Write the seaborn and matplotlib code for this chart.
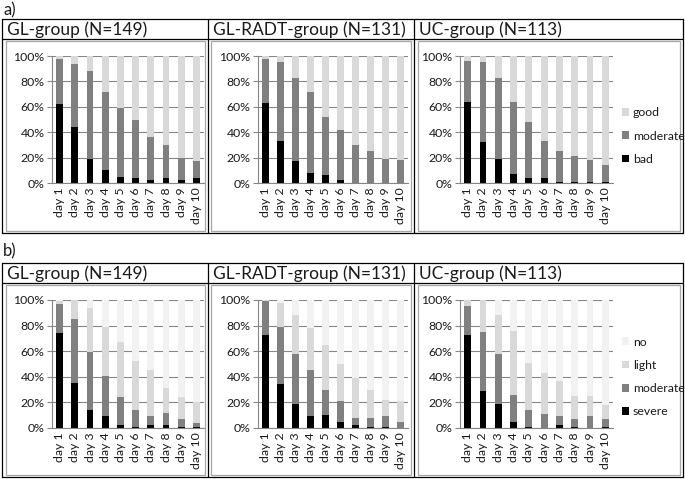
import numpy as np
import matplotlib
matplotlib.use('Agg')
import matplotlib.pyplot as plt
from matplotlib.patches import Rectangle, Patch
from matplotlib.lines import Line2D
import seaborn as sns

#DATA
#******************************************************************************
days = ['day 1', 'day 2', 'day 3', 'day 4', 'day 5',
        'day 6', 'day 7', 'day 8', 'day 9', 'day 10']

groups = ['GL-group (N=149)', 'GL-RADT-group (N=131)', 'UC-group (N=113)']

#a) bad / moderate / good (% per day)
a_gl_bad = [62, 44, 19, 10, 5, 4, 2, 4, 2, 4]
a_gl_moderate = [36, 50, 69, 62, 54, 46, 34, 26, 18, 13]
a_gl_good = [2, 6, 12, 28, 41, 50, 64, 70, 80, 83]

a_radt_bad = [63, 33, 17, 8, 6, 2, 0, 0, 0, 0]
a_radt_moderate = [35, 62, 66, 64, 46, 40, 30, 25, 19, 18]
a_radt_good = [2, 5, 17, 28, 48, 58, 70, 75, 81, 82]

a_uc_bad = [64, 32, 19, 7, 4, 4, 0.5, 1, 1, 1]
a_uc_moderate = [32, 63, 64, 57, 44, 29, 24.5, 20, 17, 13]
a_uc_good = [4, 5, 17, 36, 52, 67, 75, 79, 82, 86]

#b) severe / moderate / light / no (% per day)
b_gl_severe = [74, 35, 14, 9, 2, 1, 2, 2, 1, 1]
b_gl_moderate = [23, 50, 45, 32, 22, 13, 7, 10, 6, 3]
b_gl_light = [2, 15, 35, 38, 43, 38, 36, 19, 17, 16]
b_gl_no = [1, 0, 6, 21, 33, 48, 55, 69, 76, 80]

b_radt_severe = [73, 34, 19, 9, 10, 5, 2, 1, 0.5, 0]
b_radt_moderate = [26, 45, 39, 36, 20, 16, 6, 7, 8.5, 5]
b_radt_light = [1, 19, 30, 33, 35, 29, 31, 22, 13, 16]
b_radt_no = [0, 2, 12, 22, 35, 50, 61, 70, 78, 79]

b_uc_severe = [73, 29, 19, 5, 1, 0, 2, 1, 0, 1]
b_uc_moderate = [22, 46, 39, 21, 13, 11, 7, 6, 9, 6]
b_uc_light = [5, 25, 30, 50, 37, 32, 28, 18, 16, 11]
b_uc_no = [0, 0, 12, 24, 49, 57, 63, 75, 75, 82]

a_labels = ['bad', 'moderate', 'good']
b_labels = ['severe', 'moderate', 'light', 'no']
a_colors = ['#000000', '#808080', '#d9d9d9']
b_colors = ['#000000', '#808080', '#d9d9d9', '#f2f2f2']

#STYLE
#******************************************************************************
sns.set_style('white')
plt.rcParams['font.family'] = ['Lato', 'DejaVu Sans']
plt.rcParams['text.color'] = '#1a1a1a'

W, H = 685, 479
fig = plt.figure(figsize=(W / 100, H / 100), dpi=100)

GRID = '#868686'
FRAME = '#a6a6a6'
SMALL = 8.8


def fx(x):
    return x / W


def fy(y):
    return 1 - y / H


def hline(x0, x1, y, color='black', lw=0.9):
    fig.add_artist(Line2D([fx(x0), fx(x1)], [fy(y), fy(y)], color=color,
                          lw=lw, transform=fig.transFigure))


def vline(x, y0, y1, color='black', lw=0.9):
    fig.add_artist(Line2D([fx(x), fx(x)], [fy(y0), fy(y1)], color=color,
                          lw=lw, transform=fig.transFigure))


def stacked(ax, segments, colors):
    '''draw stacked bars with seaborn, tallest cumulative layer first'''
    cum = np.cumsum(np.array(segments, dtype=float), axis=0)
    for level in range(len(segments) - 1, -1, -1):
        sns.barplot(x=days, y=cum[level], color=colors[level], saturation=1,
                    width=0.45, edgecolor='none', linewidth=0, ax=ax)
    ax.set_xlim(-0.5, len(days) - 0.5)
    ax.set_ylim(0, 100)
    ax.set_yticks(range(0, 101, 20))
    ax.set_yticklabels([f'{v}%' for v in range(0, 101, 20)])
    ax.set_axisbelow(True)
    ax.yaxis.grid(True, color=GRID, lw=0.8)
    ax.xaxis.grid(False)
    ax.set_xlabel('')
    ax.set_ylabel('')
    for side in ['top', 'right']:
        ax.spines[side].set_visible(False)
    for side in ['left', 'bottom']:
        ax.spines[side].set_color(GRID)
        ax.spines[side].set_linewidth(0.8)
    ax.set_xticks(np.arange(-0.5, len(days), 1.0), minor=True)
    ax.tick_params(axis='x', which='major', length=0, labelsize=SMALL,
                   rotation=90, pad=3, labelcolor='#1a1a1a')
    ax.tick_params(axis='x', which='minor', length=3.5, color=GRID,
                   width=0.8, direction='out')
    ax.tick_params(axis='y', length=3.5, color=GRID, width=0.8,
                   direction='out', labelsize=SMALL, left=True, pad=2,
                   labelcolor='#1a1a1a')


#LAYOUT (pixel positions of the table / chart frames)
#******************************************************************************
cells = [(2, 208), (208, 414), (414, 683)]
frames = [(6, 205), (211, 411), (418, 680)]
axes_x = [(52, 204), (258, 408), (460, 613)]

panels = [
    dict(tag='a)', tag_y=10, top=19, head=39, bottom=233, y100=56, y0=183,
         data=[[a_gl_bad, a_gl_moderate, a_gl_good],
               [a_radt_bad, a_radt_moderate, a_radt_good],
               [a_uc_bad, a_uc_moderate, a_uc_good]],
         labels=a_labels, colors=a_colors, leg_y=136),
    dict(tag='b)', tag_y=251, top=263, head=283, bottom=477, y100=300, y0=428,
         data=[[b_gl_severe, b_gl_moderate, b_gl_light, b_gl_no],
               [b_radt_severe, b_radt_moderate, b_radt_light, b_radt_no],
               [b_uc_severe, b_uc_moderate, b_uc_light, b_uc_no]],
         labels=b_labels, colors=b_colors, leg_y=377),
]

for p in panels:
    fig.text(fx(3), fy(p['tag_y']), p['tag'], fontsize=12, va='center')

    #table outline + header row
    hline(cells[0][0], cells[-1][1], p['top'])
    hline(cells[0][0], cells[-1][1], p['head'])
    hline(cells[0][0], cells[-1][1], p['bottom'])
    vline(cells[0][0], p['top'], p['bottom'])
    for c0, c1 in cells:
        vline(c1, p['top'], p['bottom'])

    for i, (c0, c1) in enumerate(cells):
        fig.text(fx(c0 + 5), fy((p['top'] + p['head']) / 2 + 1), groups[i],
                 fontsize=12.5, va='center', ha='left')

        #chart frame
        f0, f1 = frames[i]
        fig.add_artist(Rectangle((fx(f0), fy(p['bottom'] - 2)),
                                 fx(f1 - f0), (p['bottom'] - 2 - p['head'] - 2) / H,
                                 fill=False, edgecolor=FRAME, lw=0.9,
                                 transform=fig.transFigure))

        x0, x1 = axes_x[i]
        ax = fig.add_axes([fx(x0), fy(p['y0']), fx(x1 - x0),
                           (p['y0'] - p['y100']) / H])
        stacked(ax, p['data'][i], p['colors'])

    #legend, top entry = last stacked level
    handles = [Patch(facecolor=c, edgecolor='none', label=l)
               for l, c in zip(p['labels'], p['colors'])][::-1]
    fig.legend(handles=handles, loc='center left',
               bbox_to_anchor=(fx(622), fy(p['leg_y'])), frameon=False,
               fontsize=SMALL, handlelength=0.6, handleheight=0.6,
               handletextpad=0.3, labelspacing=1.0, borderaxespad=0,
               borderpad=0)

fig.savefig('out.png', dpi=100)
